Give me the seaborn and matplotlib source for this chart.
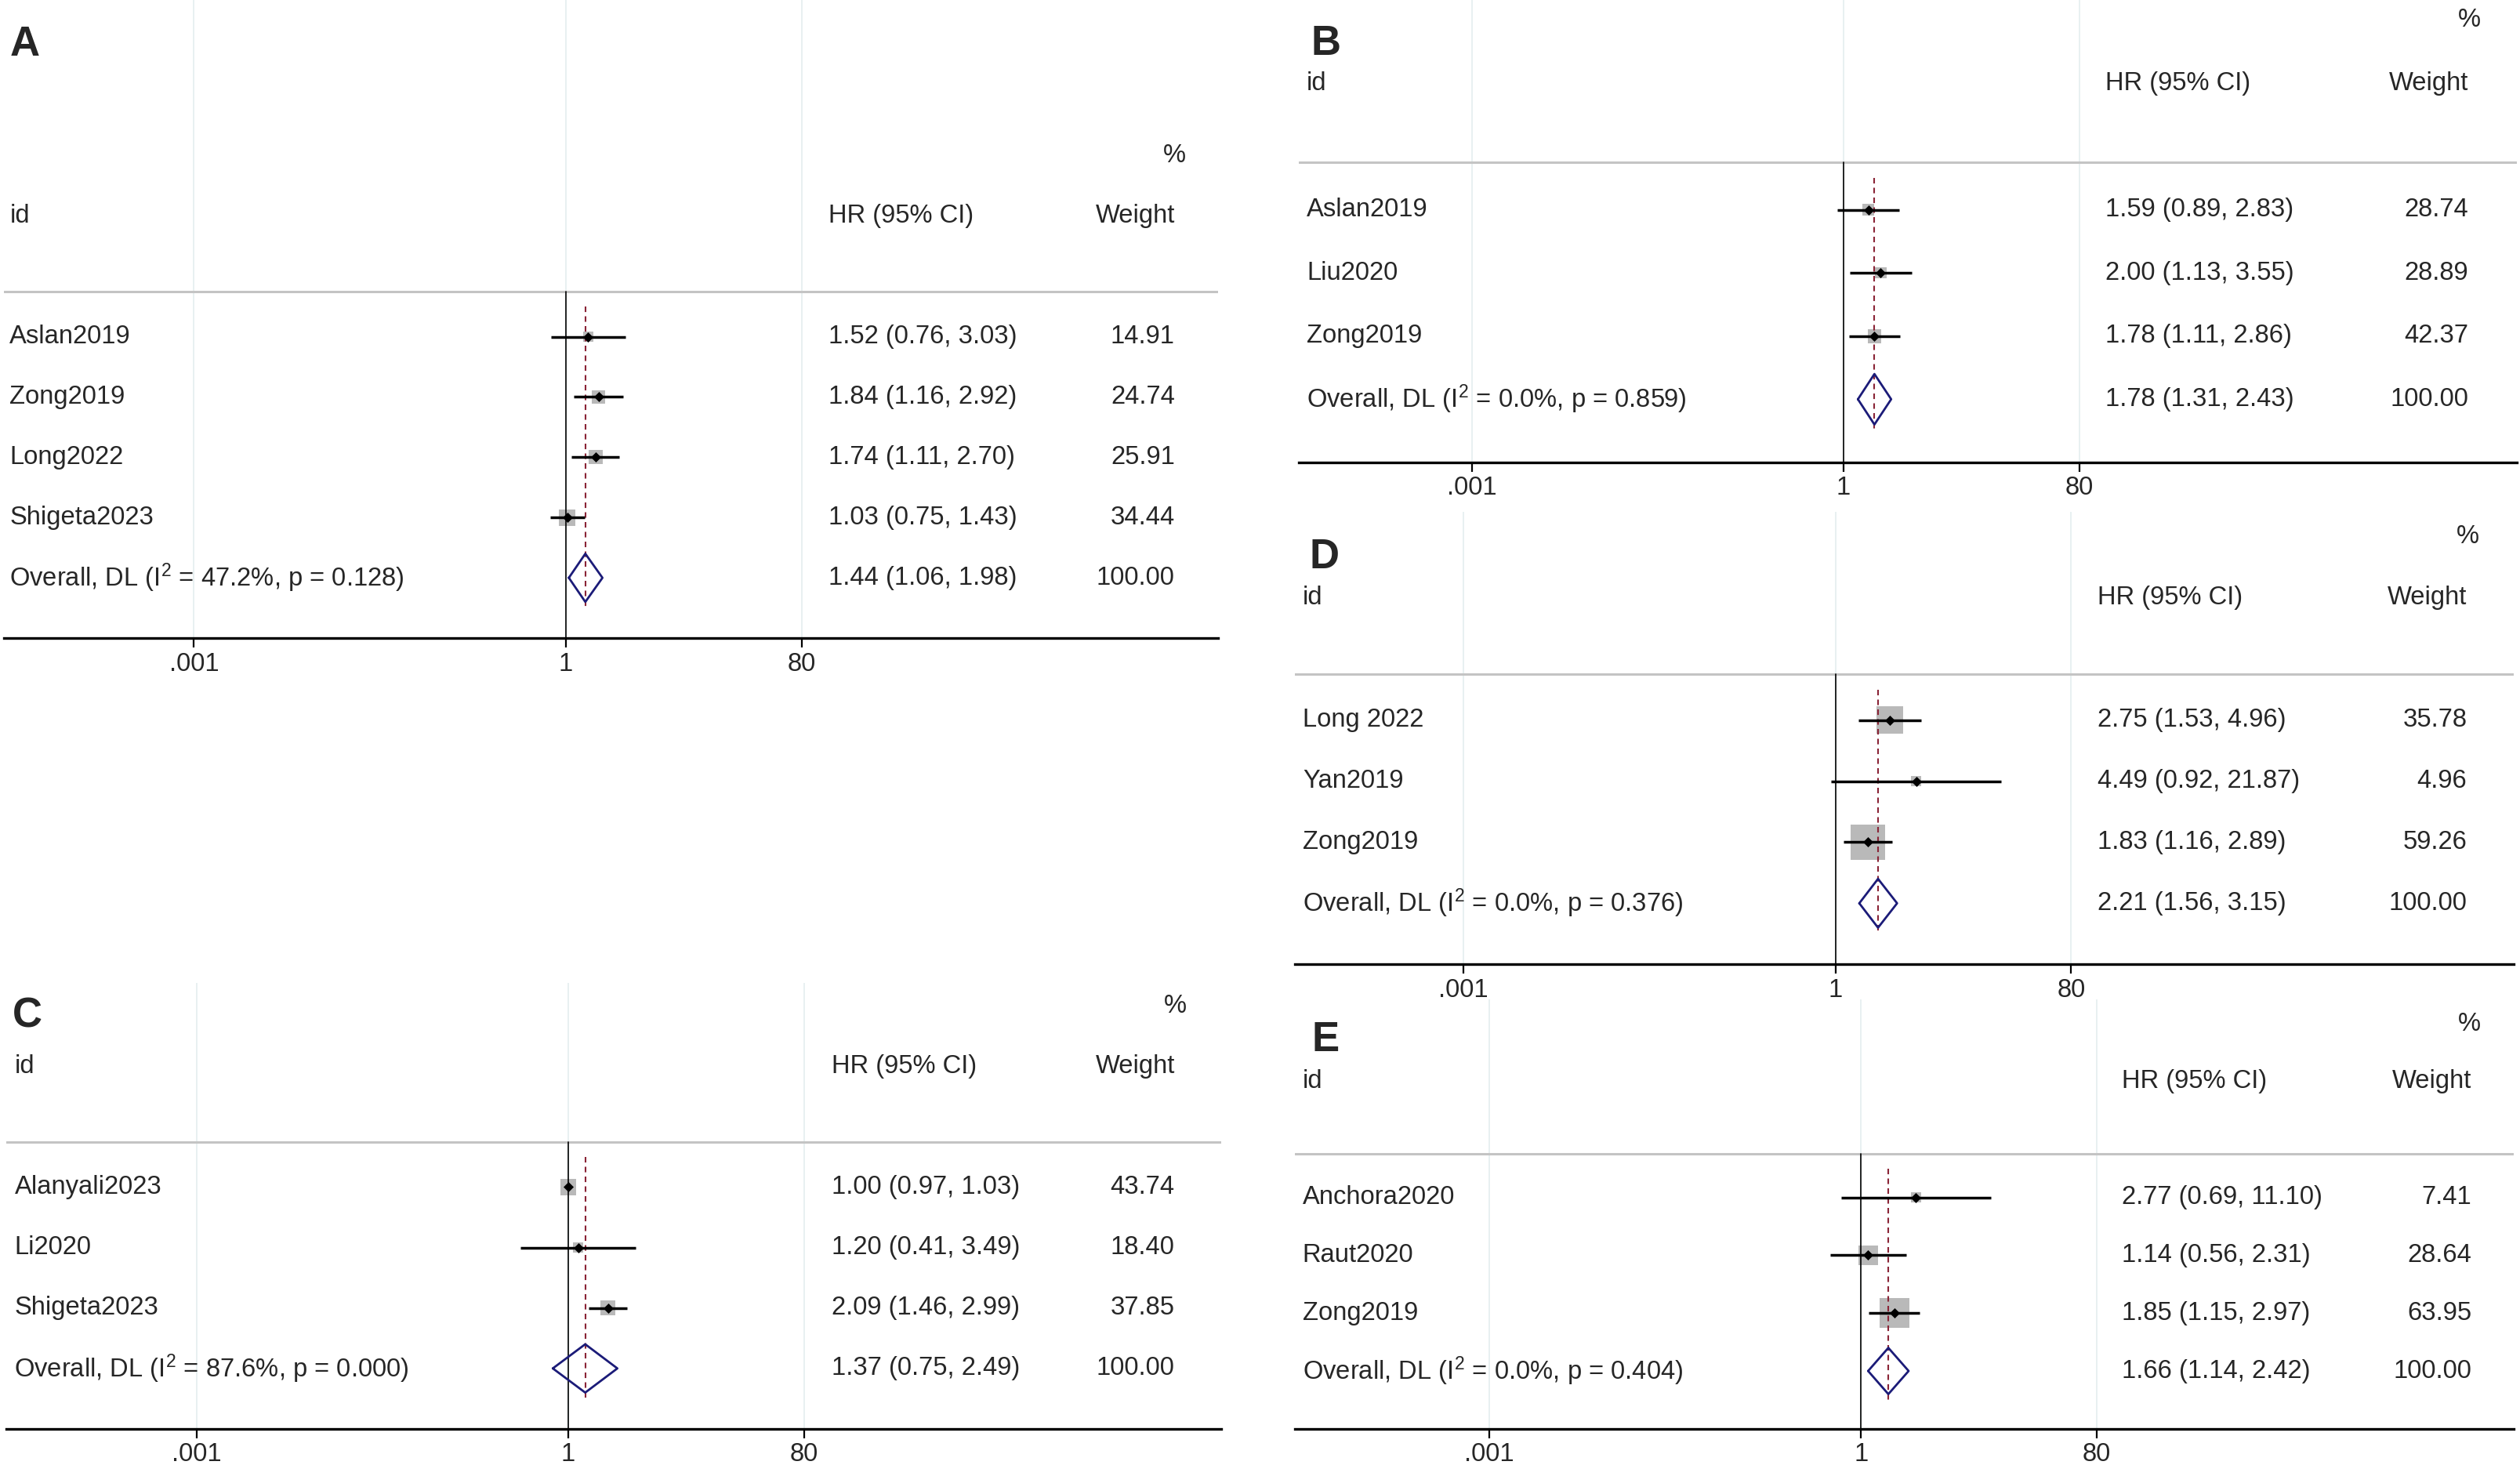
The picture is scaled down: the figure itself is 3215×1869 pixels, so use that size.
import numpy as np
import pandas as pd
import seaborn as sns
import matplotlib.pyplot as plt
from matplotlib.transforms import blended_transform_factory

# ---- data ----
# A
a_ids = ['Aslan2019', 'Zong2019', 'Long2022', 'Shigeta2023']
a_hr = [1.52, 1.84, 1.74, 1.03]
a_lo = [0.76, 1.16, 1.11, 0.75]
a_hi = [3.03, 2.92, 2.70, 1.43]
a_wt = [14.91, 24.74, 25.91, 34.44]
a_pool = [1.44, 1.06, 1.98]
a_het = [47.2, 0.128]

# B
b_ids = ['Aslan2019', 'Liu2020', 'Zong2019']
b_hr = [1.59, 2.00, 1.78]
b_lo = [0.89, 1.13, 1.11]
b_hi = [2.83, 3.55, 2.86]
b_wt = [28.74, 28.89, 42.37]
b_pool = [1.78, 1.31, 2.43]
b_het = [0.0, 0.859]

# C
c_ids = ['Alanyali2023', 'Li2020', 'Shigeta2023']
c_hr = [1.00, 1.20, 2.09]
c_lo = [0.97, 0.41, 1.46]
c_hi = [1.03, 3.49, 2.99]
c_wt = [43.74, 18.40, 37.85]
c_pool = [1.37, 0.75, 2.49]
c_het = [87.6, 0.000]

# D
d_ids = ['Long 2022', 'Yan2019', 'Zong2019']
d_hr = [2.75, 4.49, 1.83]
d_lo = [1.53, 0.92, 1.16]
d_hi = [4.96, 21.87, 2.89]
d_wt = [35.78, 4.96, 59.26]
d_pool = [2.21, 1.56, 3.15]
d_het = [0.0, 0.376]

# E
e_ids = ['Anchora2020', 'Raut2020', 'Zong2019']
e_hr = [2.77, 1.14, 1.85]
e_lo = [0.69, 0.56, 1.15]
e_hi = [11.10, 2.31, 2.97]
e_wt = [7.41, 28.64, 63.95]
e_pool = [1.66, 1.14, 2.42]
e_het = [0.0, 0.404]

tick_vals = [0.001, 1, 80]
tick_labels = ['.001', '1', '80']

# ---- layout (in units of a 1568 x 911.5 canvas) ----
W, H = 1568.0, 911.5
DEC = 77.1  # px per decade on the log axis

panels = [
    dict(letter='A', ids=a_ids, hr=a_hr, lo=a_lo, hi=a_hi, wt=a_wt, pool=a_pool, het=a_het,
         left=2.5, right=758, top=0, row0=209.5, step=37.5, one=352,
         id_x=6, hr_x=515.6, wt_x=731, pct_x=737.7, let_x=6, let_y=4.85, box_k=3.55),
    dict(letter='B', ids=b_ids, hr=b_hr, lo=b_lo, hi=b_hi, wt=b_wt, pool=b_pool, het=b_het,
         left=808, right=1566, top=0, row0=130.5, step=39.3, one=1147,
         id_x=813, hr_x=1310, wt_x=1536, pct_x=1543.6, let_x=815.5, let_y=2.62, box_k=2.7),
    dict(letter='C', ids=c_ids, hr=c_hr, lo=c_lo, hi=c_hi, wt=c_wt, pool=c_pool, het=c_het,
         left=4, right=760, top=611.5, row0=738.6, step=37.6, one=353.6,
         id_x=9, hr_x=517.5, wt_x=731, pct_x=738.5, let_x=7.5, let_y=2.83, box_k=3.1),
    dict(letter='D', ids=d_ids, hr=d_hr, lo=d_lo, hi=d_hi, wt=d_wt, pool=d_pool, het=d_het,
         left=805.5, right=1564, top=318.5, row0=448, step=38, one=1142,
         id_x=810.5, hr_x=1305, wt_x=1535, pct_x=1542.7, let_x=814.5, let_y=2.67, box_k=5.8),
    dict(letter='E', ids=e_ids, hr=e_hr, lo=e_lo, hi=e_hi, wt=e_wt, pool=e_pool, het=e_het,
         left=805.5, right=1564, top=622, row0=745, step=36, one=1158,
         id_x=810.5, hr_x=1320, wt_x=1537.8, pct_x=1543.6, let_x=816, let_y=2.72, box_k=4.75),
]

sns.set_theme(style='white')
plt.rcParams['font.family'] = ['Liberation Sans', 'DejaVu Sans']
plt.rcParams['mathtext.fontset'] = 'custom'
plt.rcParams['mathtext.rm'] = 'Liberation Sans'
plt.rcParams['mathtext.it'] = 'Liberation Sans'
plt.rcParams['mathtext.bf'] = 'Liberation Sans:bold'

FS = 11.8
fig = plt.figure(figsize=(3215 / 200, 1869 / 200), dpi=200)
fig.patch.set_facecolor('white')

for p in panels:
    n = len(p['ids'])
    bottom = p['row0'] + (n + 1) * p['step']
    rect = [p['left'] / W, 1 - bottom / H, (p['right'] - p['left']) / W, (bottom - p['top']) / H]
    ax = fig.add_axes(rect)
    ax.set_facecolor('white')
    ax.set_xscale('log')

    df = pd.DataFrame({'id': p['ids'], 'hr': p['hr'], 'lo': p['lo'], 'hi': p['hi'],
                       'wt': p['wt'], 'row': np.arange(n)})

    # weight boxes (area proportional to weight)
    area100 = (0.36 * p['box_k']) ** 2 * 100
    sns.scatterplot(data=df, x='hr', y='row', size='wt', sizes=(0, area100), size_norm=(0, 100),
                    marker='s', color='#b9b9b9', linewidth=0, legend=False, ax=ax, zorder=1)

    # header separator and null line
    ax.axhline(-0.75, color='#c4c4c4', lw=1.1, zorder=1.5)
    ax.plot([1, 1], [-0.75, n + 1], color='black', lw=0.6, zorder=2)

    # pooled estimate dashed line
    ph, pl, pu = p['pool']
    ax.plot([ph, ph], [-0.5, n + 0.5], color='#8a2436', lw=0.75, ls=(0, (3.4, 2.6)), zorder=2.5)

    # CIs and point estimates
    for i in range(n):
        ax.plot([p['lo'][i], p['hi'][i]], [i, i], color='black', lw=1.25, zorder=3,
                solid_capstyle='butt')
    sns.scatterplot(data=df, x='hr', y='row', marker='D', s=11, color='black',
                    linewidth=0, legend=False, ax=ax, zorder=4)

    # pooled diamond
    ax.plot([pl, ph, pu, ph, pl], [n, n - 0.4, n, n + 0.4, n], color='#1b1b78', lw=1.0, zorder=3)

    # axis styling (after seaborn so its labels are cleared)
    lo_dec = -(p['one'] - p['left']) / DEC
    hi_dec = (p['right'] - p['one']) / DEC
    ax.set_xlim(10 ** lo_dec, 10 ** hi_dec)
    ax.set_ylim(n + 1, -(p['row0'] - p['top']) / p['step'])
    for s in ['top', 'left', 'right']:
        ax.spines[s].set_visible(False)
    ax.spines['bottom'].set_color('black')
    ax.spines['bottom'].set_linewidth(1.2)
    ax.set_xticks(tick_vals)
    ax.set_xticklabels(tick_labels)
    ax.xaxis.set_minor_locator(plt.NullLocator())
    ax.set_yticks([])
    ax.tick_params(axis='x', direction='out', length=4.3, width=0.8, color='black',
                   labelsize=FS, pad=2.0, bottom=True)
    ax.grid(axis='x', color='#e4eeef', lw=0.6, zorder=0)
    ax.set_axisbelow(True)
    ax.set_xlabel('')
    ax.set_ylabel('')

    # text columns
    tr = blended_transform_factory(ax.transAxes, ax.transData)
    fx = lambda x: (x - p['left']) / (p['right'] - p['left'])
    ax.text(fx(p['let_x']), -p['let_y'], p['letter'], transform=tr, ha='left', va='center',
            fontsize=19, fontweight='bold')
    ax.text(fx(p['pct_x']), -3, '%', transform=tr, ha='right', va='center', fontsize=FS)
    ax.text(fx(p['id_x']), -2, 'id', transform=tr, ha='left', va='center', fontsize=FS)
    ax.text(fx(p['hr_x']), -2, 'HR (95% CI)', transform=tr, ha='left', va='center', fontsize=FS)
    ax.text(fx(p['wt_x']), -2, 'Weight', transform=tr, ha='right', va='center', fontsize=FS)
    for i in range(n):
        ax.text(fx(p['id_x']), i, p['ids'][i], transform=tr, ha='left', va='center', fontsize=FS)
        ax.text(fx(p['hr_x']), i, f"{p['hr'][i]:.2f} ({p['lo'][i]:.2f}, {p['hi'][i]:.2f})",
                transform=tr, ha='left', va='center', fontsize=FS)
        ax.text(fx(p['wt_x']), i, f"{p['wt'][i]:.2f}", transform=tr, ha='right', va='center',
                fontsize=FS)
    i2, pv = p['het']
    ax.text(fx(p['id_x']), n, f"Overall, DL (I$^{{2}}$ = {i2:.1f}%, p = {pv:.3f})", transform=tr,
            ha='left', va='center', fontsize=FS)
    ax.text(fx(p['hr_x']), n, f"{ph:.2f} ({pl:.2f}, {pu:.2f})", transform=tr, ha='left',
            va='center', fontsize=FS)
    ax.text(fx(p['wt_x']), n, f"{100:.2f}", transform=tr, ha='right', va='center', fontsize=FS)

fig.savefig('out.png', dpi=200, facecolor='white')
